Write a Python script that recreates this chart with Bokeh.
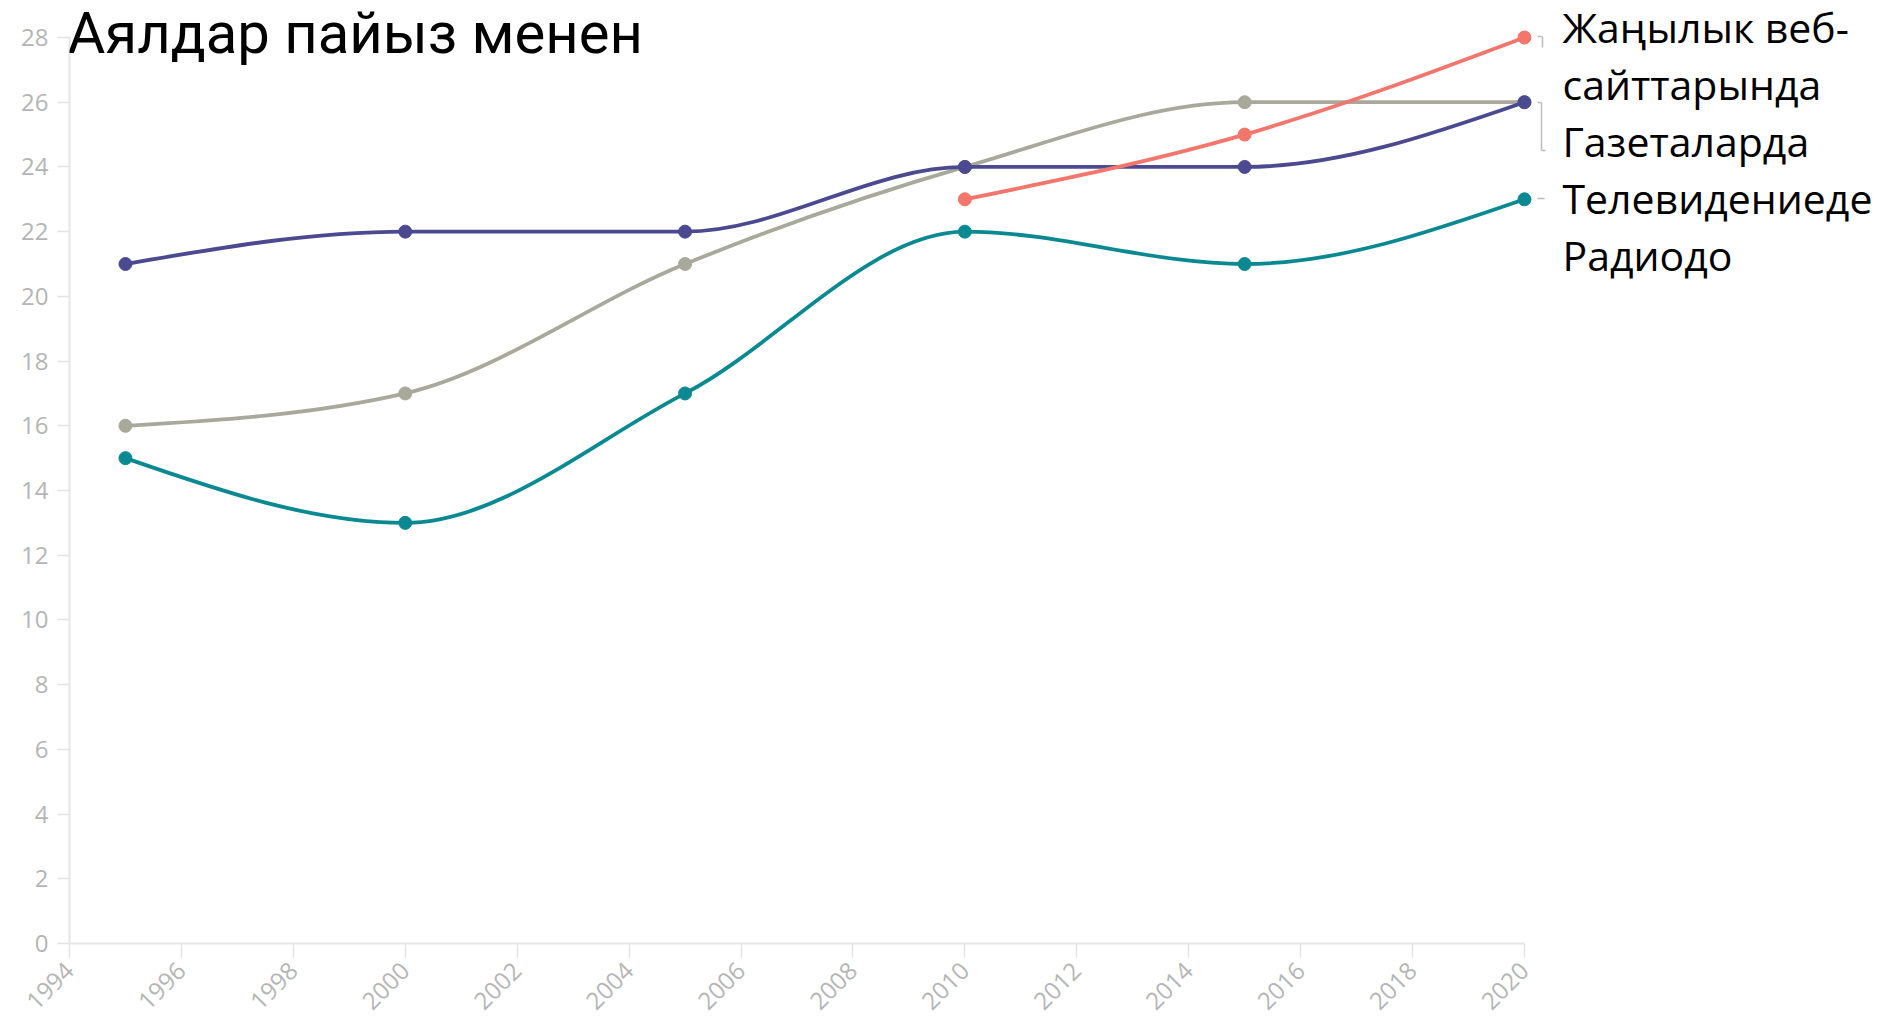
import math
from bokeh.plotting import figure
from bokeh.models import Range1d, FixedTicker, Label
from bokeh.embed import file_html
from bokeh.resources import INLINE

# ---------------- data ----------------
title_text = "Аялдар пайыз менен"
years = [1995, 2000, 2005, 2010, 2015, 2020]
web_years = [2010, 2015, 2020]
web_values = [23, 25, 28]                      # Жаңылык веб-сайттарында
newspaper_values = [16, 17, 21, 24, 26, 26]    # Газеталарда
tv_values = [21, 22, 22, 24, 24, 26]           # Телевидениеде
radio_values = [15, 13, 17, 22, 21, 23]        # Радиодо
legend_lines = ["Жаңылык веб-", "сайттарында", "Газеталарда", "Телевидениеде", "Радиодо"]
x_ticks = list(range(1994, 2021, 2))
y_ticks = list(range(0, 29, 2))

# ---------------- layout ----------------
X0_IMG, PX_YEAR = 69.0, 55.96     # image x of 1994, px per year
Y0_IMG, PX_UNIT = 943.0, 32.357   # image y of 0, px per unit
CANVAS_W = 1895
LEFT = int(X0_IMG)
FRAME_W = CANVAS_W - LEFT
FRAME_H = int(Y0_IMG)
x_end = 1994 + FRAME_W / PX_YEAR
y_end = FRAME_H / PX_UNIT


def dx(px):
    return 1994 + (px - X0_IMG) / PX_YEAR


def dy(py):
    return (Y0_IMG - py) / PX_UNIT


def sgn(v):
    return -1 if v < 0 else 1


def monotone_beziers(xs, ys):
    n = len(xs)
    h = [xs[i + 1] - xs[i] for i in range(n - 1)]
    s = [(ys[i + 1] - ys[i]) / h[i] for i in range(n - 1)]
    t = [0.0] * n
    for i in range(1, n - 1):
        s0, s1, h0, h1 = s[i - 1], s[i], h[i - 1], h[i]
        p = (s0 * h1 + s1 * h0) / (h0 + h1)
        t[i] = (sgn(s0) + sgn(s1)) * min(abs(s0), abs(s1), 0.5 * abs(p)) or 0.0
    if n > 2:
        t[0] = (3 * s[0] - t[1]) / 2
        t[-1] = (3 * s[-1] - t[-2]) / 2
    else:
        t[0] = t[-1] = s[0]
    out = dict(x0=[], y0=[], x1=[], y1=[], cx0=[], cy0=[], cx1=[], cy1=[])
    for i in range(n - 1):
        d = h[i] / 3
        out["x0"].append(xs[i]); out["y0"].append(ys[i])
        out["x1"].append(xs[i + 1]); out["y1"].append(ys[i + 1])
        out["cx0"].append(xs[i] + d); out["cy0"].append(ys[i] + d * t[i])
        out["cx1"].append(xs[i + 1] - d); out["cy1"].append(ys[i + 1] - d * t[i + 1])
    return out


p = figure(frame_width=FRAME_W, frame_height=FRAME_H,
           x_range=Range1d(1994, x_end), y_range=Range1d(0, y_end),
           output_backend="svg", toolbar_location=None,
           min_border_left=LEFT, min_border_top=0,
           min_border_right=0, min_border_bottom=72)
p.outline_line_color = None
p.xgrid.visible = False
p.ygrid.visible = False
p.background_fill_color = "white"
p.border_fill_color = "white"

for ax in (p.xaxis[0], p.yaxis[0]):
    ax.axis_line_color = "#e6e6e6"
    ax.axis_line_width = 2
    ax.major_tick_line_color = "#e3e3e3"
    ax.major_tick_line_width = 1.5
    ax.minor_tick_line_color = None
    ax.major_label_text_color = "#b5b5b5"
    ax.major_label_text_font = "Open Sans"

p.yaxis.major_label_text_font_size = "24px"
p.xaxis.major_label_text_font_size = "24px"
p.xaxis.ticker = FixedTicker(ticks=x_ticks)
p.yaxis.ticker = FixedTicker(ticks=y_ticks)
p.xaxis.bounds = (1994, 2020)
p.yaxis.bounds = (0, 28)
p.xaxis.major_tick_out = 14
p.xaxis.major_tick_in = 0
p.yaxis.major_tick_out = 12
p.yaxis.major_tick_in = 0
p.xaxis.major_label_orientation = math.pi / 4
p.xaxis.major_label_standoff = 9
p.yaxis.major_label_standoff = 9

series = [
    (years, newspaper_values, "#a8a99b"),
    (years, tv_values, "#4b4990"),
    (years, radio_values, "#0b8993"),
    (web_years, web_values, "#f2766b"),
]
for xs, ys, col in series:
    b = monotone_beziers(xs, ys)
    p.bezier(**b, line_color=col, line_width=3.8)
    p.scatter(xs, ys, size=13, fill_color=col, line_color=col)

# small leader marks next to the line ends
lead_col = "#bdbdbd"
p.segment(x0=[dx(1537), dx(1542)], y0=[dy(36), dy(36)],
          x1=[dx(1542), dx(1542)], y1=[dy(36), dy(47)],
          line_color=lead_col, line_width=1.5)
p.segment(x0=[dx(1537), dx(1541), dx(1541)], y0=[dy(102), dy(102), dy(150)],
          x1=[dx(1541), dx(1541), dx(1545)], y1=[dy(102), dy(150), dy(150)],
          line_color=lead_col, line_width=1.5)
p.segment(x0=[dx(1537)], y0=[dy(198)], x1=[dx(1544)], y1=[dy(198)],
          line_color=lead_col, line_width=1.5)

p.add_layout(Label(x=dx(67), y=dy(32), text=title_text, text_font="Roboto",
                   text_font_size="58px", text_color="black",
                   text_baseline="alphabetic", text_align="left"))

baselines = [26, 83, 140, 197, 254]
for txt, b in zip(legend_lines, baselines):
    p.add_layout(Label(x=dx(1562), y=dy(b), text=txt, text_font="Open Sans",
                       text_font_size="41px", text_color="black",
                       text_baseline="alphabetic", text_align="left"))

open("out.html", "w").write(file_html(p, INLINE))
